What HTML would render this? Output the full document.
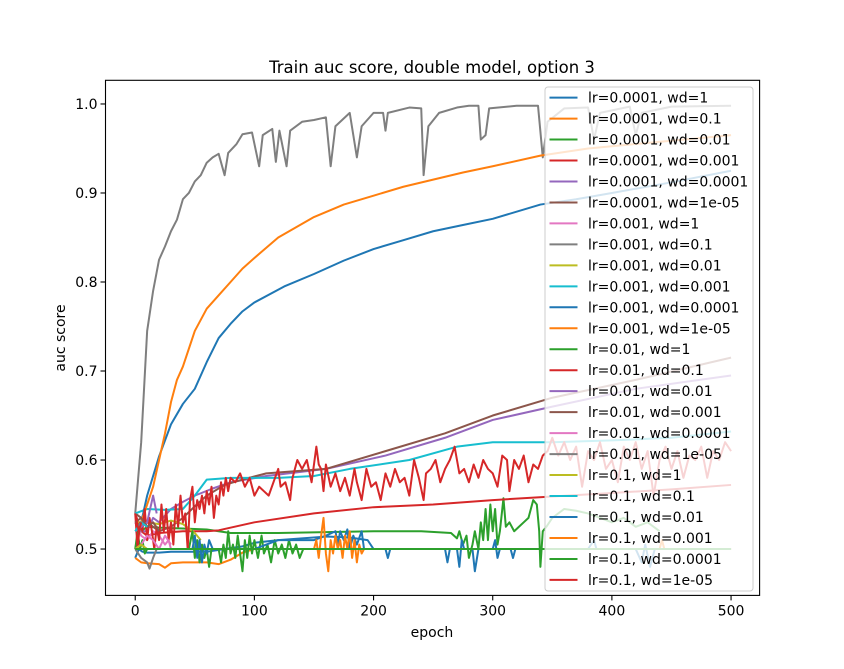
<!DOCTYPE html>
<html><head><meta charset="utf-8">
<style>
html,body{margin:0;padding:0;background:#fff;}
svg{display:block;font-family:"DejaVu Sans","Liberation Sans",sans-serif;}
</style></head>
<body>
<svg id="chart" width="844" height="669" viewBox="0 0 844 669" xmlns="http://www.w3.org/2000/svg">
<rect x="0" y="0" width="844" height="669" fill="#fff"/>
<text x="432" y="73" text-anchor="middle" font-size="16.5" fill="#000">Train auc score, double model, option 3</text>
<text x="432" y="637" text-anchor="middle" font-size="14" fill="#000">epoch</text>
<text transform="translate(65,338) rotate(-90)" text-anchor="middle" font-size="14" fill="#000">auc score</text>
<g id="plot"></g>
<g id="axes"></g>
<g id="legend"></g>
</svg>
<script>
const labels = ["lr=0.0001, wd=1","lr=0.0001, wd=0.1","lr=0.0001, wd=0.01","lr=0.0001, wd=0.001","lr=0.0001, wd=0.0001","lr=0.0001, wd=1e-05","lr=0.001, wd=1","lr=0.001, wd=0.1","lr=0.001, wd=0.01","lr=0.001, wd=0.001","lr=0.001, wd=0.0001","lr=0.001, wd=1e-05","lr=0.01, wd=1","lr=0.01, wd=0.1","lr=0.01, wd=0.01","lr=0.01, wd=0.001","lr=0.01, wd=0.0001","lr=0.01, wd=1e-05","lr=0.1, wd=1","lr=0.1, wd=0.1","lr=0.1, wd=0.01","lr=0.1, wd=0.001","lr=0.1, wd=0.0001","lr=0.1, wd=1e-05"];
const xTicks = [0,100,200,300,400,500];
const yTicks = [0.5,0.6,0.7,0.8,0.9,1.0];
const yTickLabels = ["0.5","0.6","0.7","0.8","0.9","1.0"];

const s00 = [[0,0.49],[3,0.5],[6,0.497],[10,0.496],[20,0.496],[30,0.497],[40,0.497],[60,0.497],[75,0.5],[90,0.503],[100,0.507],[120,0.51],[140,0.512],[160,0.514],[180,0.513],[195,0.51],[200,0.5]];
const s01 = [[0,0.49],[5,0.485],[10,0.484],[20,0.483],[25,0.479],[30,0.484],[40,0.485],[60,0.485],[70,0.483],[80,0.488],[90,0.496],[100,0.5],[500,0.5]];
const s02 = [[0,0.53],[5,0.52],[10,0.525],[20,0.524],[40,0.523],[60,0.522],[70,0.52],[80,0.518],[120,0.518],[160,0.519],[200,0.52],[240,0.52],[265,0.518],[270,0.512],[272,0.52],[275,0.505],[278,0.515],[280,0.49],[283,0.505],[285,0.52],[288,0.5],[290,0.53],[292,0.51],[294,0.545],[296,0.51],[298,0.55],[300,0.52],[302,0.545],[304,0.505],[306,0.52],[309,0.557],[311,0.525],[314,0.53],[318,0.52],[322,0.525],[326,0.53],[330,0.535],[334,0.555],[337,0.55],[339,0.52],[340,0.48],[342,0.52],[345,0.525],[350,0.535],[360,0.545],[370,0.543],[380,0.54],[390,0.535],[400,0.53],[410,0.535],[420,0.525],[430,0.53],[440,0.52]];
const s03 = [[0,0.54],[5,0.52],[10,0.515],[20,0.518],[40,0.52],[60,0.52],[70,0.521],[100,0.53],[150,0.54],[200,0.547],[250,0.55],[300,0.555],[350,0.559],[400,0.563],[450,0.567],[500,0.572]];
const s04 = [[0,0.52],[10,0.52],[15,0.535],[20,0.53],[30,0.545],[40,0.553],[50,0.56],[65,0.568],[80,0.575],[110,0.582],[160,0.59],[210,0.605],[260,0.625],[300,0.645],[350,0.66],[420,0.68],[500,0.695]];
const s05 = [[0,0.54],[10,0.53],[20,0.52],[30,0.525],[40,0.535],[50,0.548],[60,0.56],[75,0.572],[90,0.578],[110,0.585],[160,0.59],[210,0.61],[260,0.63],[300,0.65],[350,0.67],[420,0.69],[500,0.715]];
const s06 = [[0,0.53],[5,0.515],[10,0.51],[15,0.52],[20,0.515],[25,0.505],[28,0.51],[30,0.5]];
const s07 = [[0,0.54],[5,0.62],[10,0.745],[15,0.79],[20,0.825],[25,0.84],[30,0.857],[35,0.87],[40,0.893],[45,0.9],[50,0.913],[55,0.92],[60,0.934],[65,0.94],[70,0.944],[75,0.92],[78,0.945],[85,0.955],[90,0.966],[98,0.968],[104,0.93],[107,0.965],[115,0.972],[118,0.935],[121,0.97],[127,0.93],[130,0.97],[140,0.98],[150,0.982],[160,0.985],[164,0.93],[168,0.975],[180,0.99],[186,0.94],[190,0.975],[200,0.99],[208,0.99],[210,0.97],[212,0.99],[230,0.996],[240,0.995],[242,0.92],[246,0.975],[255,0.99],[270,0.996],[280,0.998],[288,0.998],[290,0.96],[294,0.965],[297,0.995],[320,0.998],[338,0.998],[342,0.94],[346,0.98],[360,0.995],[380,0.996],[385,0.96],[390,0.99],[415,0.997],[420,0.965],[425,0.99],[450,0.997],[500,0.998]];
const s08 = [[0,0.53],[10,0.53],[20,0.528],[30,0.532],[40,0.528],[50,0.518],[55,0.51]];
const s09 = [[0,0.54],[10,0.545],[25,0.544],[40,0.545],[50,0.56],[60,0.578],[80,0.58],[120,0.58],[150,0.582],[180,0.59],[230,0.6],[270,0.615],[300,0.62],[350,0.62],[400,0.622],[450,0.625],[500,0.632]];
const s10 = [[0,0.5],[5,0.53],[10,0.56],[20,0.604],[30,0.64],[40,0.663],[50,0.68],[60,0.71],[70,0.737],[80,0.753],[90,0.767],[100,0.777],[125,0.795],[150,0.809],[175,0.824],[200,0.837],[225,0.847],[250,0.857],[275,0.864],[300,0.871],[340,0.887],[370,0.893],[400,0.9],[450,0.912],[500,0.925]];
const s11 = [[0,0.5],[5,0.53],[10,0.55],[15,0.57],[20,0.6],[25,0.63],[30,0.665],[35,0.69],[40,0.705],[45,0.725],[50,0.745],[60,0.77],[70,0.785],[80,0.8],[90,0.815],[100,0.827],[120,0.85],[150,0.873],[175,0.887],[200,0.897],[225,0.907],[250,0.915],[275,0.923],[300,0.93],[340,0.942],[380,0.95],[420,0.955],[460,0.96],[500,0.965]];
const s12 = [[0,0.5],[2,0.52],[4,0.5],[6,0.51],[8,0.495],[10,0.5],[45,0.5],[48,0.52],[50,0.49],[52,0.51],[54,0.485],[56,0.505],[58,0.49],[60,0.5],[62,0.48],[64,0.5],[70,0.5],[72,0.485],[74,0.505],[76,0.49],[78,0.52],[80,0.495],[82,0.505],[84,0.49],[86,0.515],[88,0.495],[90,0.475],[92,0.51],[94,0.49],[96,0.515],[98,0.495],[100,0.51],[103,0.49],[106,0.515],[108,0.495],[111,0.505],[114,0.485],[117,0.51],[120,0.495],[123,0.505],[126,0.49],[129,0.51],[132,0.495],[135,0.505],[138,0.49],[141,0.5],[500,0.5]];
const s13 = [[0,0.54],[2,0.5],[4,0.53],[6,0.52],[8,0.545],[10,0.51],[12,0.535],[14,0.52],[16,0.5],[18,0.525],[20,0.51],[22,0.55],[24,0.52],[26,0.545],[28,0.51],[30,0.53],[32,0.505],[34,0.55],[36,0.525],[38,0.56],[40,0.53],[42,0.54],[44,0.5],[46,0.555],[48,0.57],[50,0.53],[52,0.555],[54,0.545],[56,0.56],[58,0.54],[60,0.565],[62,0.55],[64,0.57],[66,0.535],[68,0.56],[70,0.55],[72,0.575],[74,0.56],[76,0.58],[78,0.565],[80,0.58],[84,0.575],[88,0.585],[92,0.57],[96,0.58],[100,0.56],[104,0.57],[108,0.565],[112,0.56],[116,0.575],[120,0.59],[122,0.57],[126,0.575],[130,0.555],[132,0.58],[136,0.6],[140,0.59],[144,0.6],[148,0.575],[150,0.595],[152,0.615],[154,0.595],[156,0.59],[158,0.565],[160,0.595],[164,0.57],[168,0.585],[172,0.565],[176,0.58],[180,0.56],[184,0.59],[186,0.575],[190,0.555],[194,0.59],[198,0.57],[202,0.575],[206,0.555],[210,0.585],[214,0.57],[218,0.59],[222,0.575],[226,0.58],[230,0.56],[234,0.6],[238,0.58],[242,0.555],[244,0.585],[248,0.59],[252,0.6],[256,0.575],[260,0.59],[264,0.6],[268,0.615],[272,0.585],[276,0.59],[280,0.575],[284,0.595],[288,0.58],[292,0.6],[296,0.59],[300,0.585],[304,0.57],[308,0.605],[312,0.6],[314,0.565],[318,0.6],[322,0.59],[326,0.605],[330,0.575],[334,0.595],[338,0.59],[342,0.605],[346,0.61],[350,0.625],[355,0.605],[360,0.62],[365,0.6],[370,0.615],[375,0.57],[380,0.61],[385,0.6],[390,0.62],[395,0.59],[400,0.6],[405,0.575],[410,0.615],[415,0.6],[420,0.62],[425,0.59],[430,0.61],[435,0.56],[440,0.6],[445,0.615],[450,0.59],[455,0.61],[460,0.58],[465,0.605],[470,0.6],[475,0.615],[480,0.58],[485,0.61],[490,0.6],[495,0.62],[500,0.61]];
const s14 = [[0,0.52],[5,0.525],[10,0.53],[15,0.56],[18,0.54]];
const s15 = [[0,0.53],[5,0.535],[10,0.525],[15,0.53],[20,0.52]];
const s16 = [[0,0.5],[5,0.505],[10,0.515],[15,0.51],[20,0.5],[25,0.515],[30,0.505]];
const s17 = [[0,0.5],[5,0.49],[10,0.485],[12,0.478],[15,0.49],[18,0.5]];
const s18 = [[0,0.5],[5,0.505],[10,0.5]];
const s19 = [[0,0.52],[5,0.53],[10,0.525]];
const s20 = [[0,0.5],[48,0.5],[50,0.515],[52,0.49],[54,0.51],[56,0.485],[58,0.505],[60,0.495],[62,0.51],[65,0.5],[100,0.5],[110,0.505],[120,0.51],[150,0.51],[160,0.515],[168,0.52],[170,0.505],[172,0.52],[175,0.51],[178,0.522],[180,0.5],[183,0.515],[186,0.505],[190,0.52],[192,0.5],[210,0.5],[212,0.49],[214,0.5],[260,0.5],[262,0.485],[264,0.5],[270,0.5],[272,0.48],[274,0.51],[276,0.5],[283,0.5],[285,0.475],[288,0.5],[300,0.5],[302,0.51],[304,0.49],[306,0.5],[315,0.5],[317,0.49],[319,0.5],[380,0.5],[385,0.51],[387,0.5],[420,0.5],[425,0.485],[428,0.505],[432,0.48],[436,0.5],[440,0.5]];
const s21 = [[0,0.5],[150,0.5],[152,0.51],[154,0.49],[156,0.515],[158,0.535],[160,0.495],[162,0.475],[164,0.51],[166,0.495],[168,0.515],[170,0.5],[172,0.51],[174,0.49],[176,0.515],[178,0.5],[180,0.52],[182,0.49],[184,0.51],[186,0.485],[188,0.505],[190,0.495],[192,0.5],[440,0.5],[442,0.51],[444,0.5],[500,0.5]];
const s22 = [[0,0.5],[500,0.5]];
const s23 = [[0,0.54],[3,0.52],[5,0.53]];
const seriesData = [s00,s01,s02,s03,s04,s05,s06,s07,s08,s09,s10,s11,s12,s13,s14,s15,s16,s17,s18,s19,s20,s21,s22,s23];
const colors = ["#1f77b4","#ff7f0e","#2ca02c","#d62728","#9467bd","#8c564b","#e377c2","#7f7f7f","#bcbd22","#17becf"];

const NS = "http://www.w3.org/2000/svg";
const L = 105.5, R = 759.6, T = 80.3, B = 595.4;
const xMin = -24.95, xMax = 523.95, yMin = 0.4479, yMax = 1.0266;
function X(e){ return L + (e - xMin) / (xMax - xMin) * (R - L); }
function Y(v){ return B - (v - yMin) / (yMax - yMin) * (B - T); }
function mk(tag, attrs, parent){ const el = document.createElementNS(NS, tag); for (const k in attrs) el.setAttribute(k, attrs[k]); parent.appendChild(el); return el; }

const plot = document.getElementById('plot');
const clip = mk('clipPath', {id:'clp'}, plot);
mk('rect', {x:L, y:T, width:R-L, height:B-T}, clip);
const lines = mk('g', {'clip-path':'url(#clp)'}, plot);
seriesData.forEach((s, i) => {
  const d = s.map((p, j) => (j ? 'L' : 'M') + X(p[0]).toFixed(2) + ' ' + Y(p[1]).toFixed(2)).join(' ');
  const path = mk('path', {d:d, fill:'none', stroke:colors[i % 10], 'stroke-width':2, 'stroke-linejoin':'round'}, lines);
  
  
});

const axes = document.getElementById('axes');
const frame = mk('rect', {x:L, y:T, width:R-L, height:B-T, fill:'none', stroke:'#000', 'stroke-width':1.1}, axes);


xTicks.forEach(t => {
  const tk = mk('line', {x1:X(t), x2:X(t), y1:B, y2:B+5, stroke:'#000', 'stroke-width':1.1}, axes);
  
  
  const tx = mk('text', {x:X(t), y:B+20, 'text-anchor':'middle', 'font-size':14}, axes);
  tx.textContent = String(t);
  
  
});
yTicks.forEach((t, i) => {
  const tk = mk('line', {x1:L-5, x2:L, y1:Y(t), y2:Y(t), stroke:'#000', 'stroke-width':1.1}, axes);
  
  
  const tx = mk('text', {x:L-8, y:Y(t)+5, 'text-anchor':'end', 'font-size':14}, axes);
  tx.textContent = yTickLabels[i];
  
  
});

const lg = document.getElementById('legend');
const box = mk('rect', {x:545, y:87, width:208, height:504, rx:3, fill:'#fff', 'fill-opacity':0.8, stroke:'#ccc', 'stroke-width':1}, lg);


labels.forEach((lab, i) => {
  const cy = 97.6 + i * 20.97;
  const g = mk('g', {}, lg);
  
  
  mk('line', {x1:549.5, x2:577.5, y1:cy, y2:cy, stroke:colors[i % 10], 'stroke-width':2}, g);
  const tx = mk('text', {x:588, y:cy+5, 'font-size':14}, g);
  tx.textContent = lab;
});
</script>
</body></html>
